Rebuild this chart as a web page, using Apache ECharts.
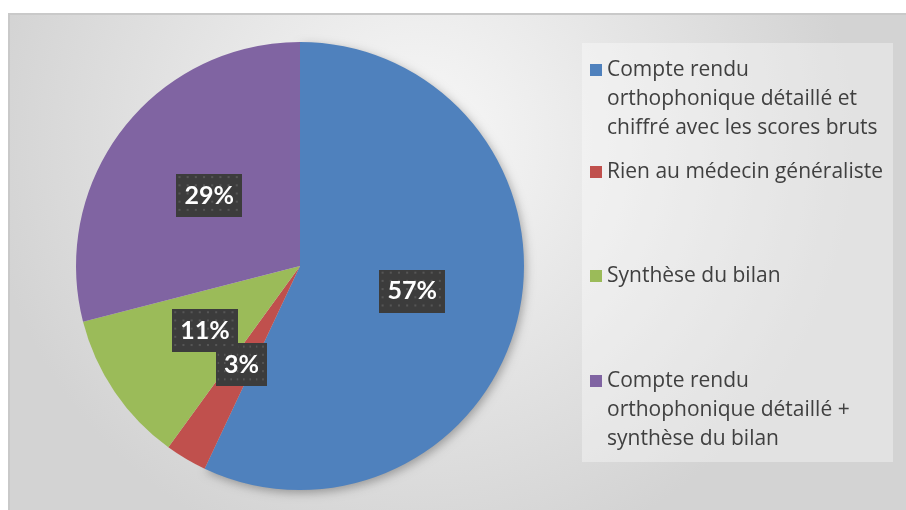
<!DOCTYPE html>
<html>
<head>
<meta charset="utf-8">
<script src="https://cdn.jsdelivr.net/npm/echarts@6/dist/echarts.min.js"></script>
<style>
  html, body { margin: 0; padding: 0; background: #fff; }
  #chart { width: 906px; height: 510px; }
</style>
</head>
<body>
<div id="chart"></div>
<script>
// données
var categories = [
  'Compte rendu orthophonique détaillé et chiffré avec les scores bruts',
  'Rien au médecin généraliste',
  'Synthèse du bilan',
  'Compte rendu orthophonique détaillé + synthèse du bilan'
];
var legendLines = [
  ['Compte rendu', 'orthophonique détaillé et', 'chiffré avec les scores bruts'],
  ['Rien au médecin généraliste'],
  ['Synthèse du bilan'],
  ['Compte rendu', 'orthophonique détaillé +', 'synthèse du bilan']
];
var values = [57, 3, 11, 29];
var colors = ['#4f81bd', '#c0504d', '#9bbb59', '#8064a2'];
// centre de la première ligne de chaque entrée
var legendFirstLine = [70, 172, 276, 381];

var LINE_H = 29;

// fond pointillé des étiquettes
function makeDots(w, h) {
  var c = document.createElement('canvas');
  c.width = w; c.height = h;
  var ctx = c.getContext('2d');
  ctx.fillStyle = '#3c3c3c';
  ctx.fillRect(0, 0, w, h);
  ctx.fillStyle = '#565656';
  for (var y = 2; y < h; y += 8) {
    for (var x = 2; x < w; x += 8) {
      ctx.fillRect(x, y, 2, 2);
    }
  }
  return c;
}
var dots = makeDots(64, 42);

var chart = echarts.init(document.getElementById('chart'));

// une légende par entrée : le carré reste sur la première ligne
var legends = categories.map(function(name, i) {
  var lines = legendLines[i];
  var blank = [];
  for (var k = 1; k < lines.length; k++) blank.push(' ');
  var text = blank.concat(lines).join('\n');
  var total = blank.length + lines.length;
  return {
    data: [name],
    left: 590,
    top: legendFirstLine[i] - (total / 2) * LINE_H,
    padding: 0,
    orient: 'vertical',
    icon: 'rect',
    itemWidth: 12,
    itemHeight: 12,
    itemGap: 0,
    selectedMode: false,
    formatter: function() { return text; },
    textStyle: {
      fontFamily: 'Open Sans',
      fontSize: 21,
      lineHeight: LINE_H,
      color: '#404040'
    }
  };
});

chart.setOption({
  animation: false,
  color: colors,
  graphic: [{
    type: 'rect',
    z: -10,
    shape: { x: 9, y: 14, width: 910, height: 510 },
    style: {
      fill: new echarts.graphic.RadialGradient(0.45, 0.25, 0.85, [
        { offset: 0, color: '#f8f8f8' },
        { offset: 1, color: '#d3d3d3' }
      ]),
      stroke: '#c9c9c9',
      lineWidth: 2
    }
  }, {
    type: 'rect',
    z: -9,
    shape: { x: 582, y: 43, width: 311, height: 419 },
    style: { fill: 'rgba(255,255,255,0.35)' }
  }],
  legend: legends,
  series: [{
    type: 'pie',
    center: [300, 266],
    radius: [0, 224],
    startAngle: 90,
    clockwise: true,
    avoidLabelOverlap: false,
    labelLayout: { hideOverlap: false },
    itemStyle: { borderWidth: 0 },
    emphasis: { disabled: true },
    label: {
      show: true,
      position: 'inside',
      formatter: '{d}%',
      fontFamily: 'Lato',
      fontWeight: 'bold',
      fontSize: 25,
      lineHeight: 25,
      color: '#fff',
      padding: [9, 8],
      backgroundColor: { image: dots },
      shadowColor: 'rgba(0,0,0,0.45)',
      shadowBlur: 6,
      shadowOffsetX: 3,
      shadowOffsetY: 3
    },
    labelLine: { show: false },
    data: categories.map(function(name, i) {
      var item = { name: name, value: values[i] };
      // ombre portée légère sous la grande part (bas-droite du disque)
      if (i === 0) {
        item.itemStyle = {
          shadowColor: 'rgba(0,0,0,0.3)',
          shadowBlur: 10,
          shadowOffsetX: 2,
          shadowOffsetY: 3
        };
      }
      return item;
    })
  }]
});
</script>
</body>
</html>
